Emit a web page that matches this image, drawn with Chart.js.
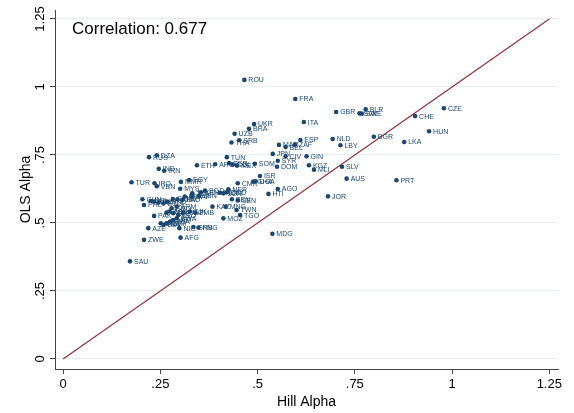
<!DOCTYPE html>
<html>
<head>
<meta charset="utf-8">
<script src="https://cdn.jsdelivr.net/npm/chart.js@4/dist/chart.umd.min.js"></script>
<style>
  html, body { margin: 0; padding: 0; background: #ffffff; }
  #wrap { width: 574px; height: 413px; }
</style>
</head>
<body>
<div id="wrap"><canvas id="c" width="574" height="413"></canvas></div>
<script>
// Country codes with their Hill and OLS tail-index estimates
const countries = [
  'ROU','FRA','GBR','BLR','SVK','SWE','CZE','CHE','HUN','BGR',
  'LKA','NLD','LBY','SLV','AUS','PRT','JOR','MDG','AGO','HTI',
  'ISR','CMR','GHA','UGA','DOM','SOM','SYR','JPN','CIV','GIN',
  'KGZ','MLI','ITA','UKR','BRA','UZB','SRB','THA','ESP','ZAF',
  'MAR','BEL','TUN','ETH','ARG','PER','COL','MEX','RUS','DZA',
  'IND','IRN','TUR','IRQ','VEN','MMR','EGY','MYS','NER','BGD',
  'KEN','TZA','YEM','SDN','COD','CHN','PHL','NPL','BOL','PRY',
  'ECU','HND','GTM','KHM','LAO','BFA','CAF','LBN','PAK','VNM',
  'TCD','SLE','LSO','MWI','TJK','ZMB','GEO','ARM','GMB','BDI',
  'NAM','RWA','MRT','BWA','AZE','ZWE','AFG','NIC','GNB','PNG',
  'SAU','KAZ','MNG','BEN','SEN','TWN','TGO','MOZ'
];
const hillAlpha = [
  0.466,0.597,0.702,0.778,0.762,0.768,0.979,0.905,0.941,0.799,
  0.877,0.693,0.713,0.717,0.729,0.857,0.681,0.538,0.552,0.528,
  0.506,0.449,0.489,0.495,0.550,0.493,0.552,0.539,0.572,0.626,
  0.632,0.645,0.619,0.491,0.478,0.441,0.453,0.433,0.610,0.596,
  0.555,0.572,0.421,0.344,0.391,0.427,0.436,0.447,0.221,0.241,
  0.246,0.260,0.176,0.235,0.241,0.303,0.324,0.301,0.425,0.365,
  0.354,0.332,0.403,0.412,0.421,0.204,0.208,0.225,0.234,0.245,
  0.258,0.268,0.282,0.294,0.307,0.313,0.331,0.350,0.234,0.266,
  0.273,0.283,0.296,0.309,0.326,0.340,0.279,0.292,0.251,0.258,
  0.266,0.275,0.283,0.292,0.219,0.208,0.302,0.299,0.335,0.348,
  0.172,0.384,0.418,0.434,0.449,0.446,0.455,0.412
];
const olsAlpha = [
  1.026,0.956,0.908,0.918,0.903,0.902,0.922,0.893,0.837,0.817,
  0.798,0.809,0.786,0.707,0.663,0.657,0.598,0.460,0.625,0.607,
  0.673,0.646,0.652,0.653,0.707,0.718,0.729,0.754,0.745,0.745,
  0.712,0.696,0.871,0.864,0.846,0.828,0.804,0.796,0.805,0.788,
  0.787,0.779,0.742,0.712,0.716,0.720,0.714,0.711,0.742,0.749,
  0.699,0.692,0.650,0.646,0.635,0.651,0.658,0.626,0.624,0.619,
  0.613,0.609,0.611,0.609,0.613,0.587,0.566,0.581,0.578,0.575,
  0.572,0.578,0.588,0.587,0.585,0.597,0.597,0.599,0.526,0.538,
  0.542,0.536,0.529,0.538,0.542,0.538,0.554,0.560,0.499,0.493,
  0.499,0.505,0.511,0.517,0.481,0.438,0.446,0.481,0.485,0.483,
  0.359,0.560,0.560,0.587,0.583,0.548,0.529,0.517
];
const tickValues = [0, 0.25, 0.5, 0.75, 1, 1.25];
const tickLabels = ['0', '.25', '.5', '.75', '1', '1.25'];
const diagonalEnds = [0, 1.25];
const correlationText = 'Correlation: 0.677';
const xTitle = 'Hill Alpha';
const yTitle = 'OLS Alpha';

const FONT = '"Liberation Sans", Arial, Helvetica, sans-serif';
const NAVY = '#1a476f';
const AXIS = '#444444';

Chart.defaults.font.family = FONT;
Chart.defaults.color = '#000000';

const points = hillAlpha.map((x, i) => ({ x: x, y: olsAlpha[i] }));
const diagonal = diagonalEnds.map(v => ({ x: v, y: v }));

// Country codes next to each marker, plus rotated y tick labels and axis titles
const annotate = {
  id: 'annotate',
  afterDatasetsDraw(chart) {
    const ctx = chart.ctx;
    const meta = chart.getDatasetMeta(0);
    ctx.save();
    ctx.font = '7px ' + FONT;
    ctx.fillStyle = NAVY;
    ctx.textAlign = 'left';
    ctx.textBaseline = 'middle';
    meta.data.forEach((el, i) => {
      ctx.fillText(countries[i], el.x + 4, el.y + 0.5);
    });
    ctx.restore();
  },
  afterDraw(chart) {
    const ctx = chart.ctx;
    const ys = chart.scales.y;
    const xs = chart.scales.x;
    ctx.save();
    ctx.fillStyle = '#000000';
    ctx.font = '13px ' + FONT;
    ctx.textAlign = 'center';
    ctx.textBaseline = 'middle';
    tickValues.forEach((v, i) => {
      const py = ys.getPixelForValue(v);
      ctx.save();
      ctx.translate(40, py);
      ctx.rotate(-Math.PI / 2);
      ctx.fillText(tickLabels[i], 0, 0);
      ctx.restore();
    });
    ctx.font = '14px ' + FONT;
    ctx.save();
    ctx.translate(26, (ys.top + ys.bottom) / 2);
    ctx.rotate(-Math.PI / 2);
    ctx.fillText(yTitle, 0, 0);
    ctx.restore();
    ctx.fillText(xTitle, (xs.left + xs.right) / 2, 402);
    ctx.font = '17px ' + FONT;
    ctx.textAlign = 'left';
    ctx.fillText(correlationText, 72, 29);
    ctx.restore();
  }
};

new Chart(document.getElementById('c'), {
  type: 'scatter',
  data: {
    datasets: [
      {
        type: 'scatter',
        data: points,
        pointRadius: 2.3,
        pointHoverRadius: 2.3,
        pointBackgroundColor: NAVY,
        pointBorderWidth: 0,
        borderWidth: 0
      },
      {
        type: 'line',
        data: diagonal,
        borderColor: '#94353b',
        borderWidth: 1.3,
        pointRadius: 0,
        fill: false,
        tension: 0
      }
    ]
  },
  options: {
    responsive: false,
    devicePixelRatio: 1,
    animation: false,
    events: [],
    layout: { padding: { left: 0, right: 16, top: 10, bottom: 0 } },
    plugins: { legend: { display: false }, tooltip: { enabled: false } },
    scales: {
      x: {
        type: 'linear',
        min: -0.0208,
        max: 1.2724,
        afterBuildTicks: (s) => { s.ticks = tickValues.map(v => ({ value: v })); },
        afterFit: (s) => { s.height = 44; },
        ticks: {
          callback: (v) => tickLabels[tickValues.indexOf(v)],
          font: { size: 13 },
          color: '#000000',
          padding: 3,
          maxRotation: 0,
          minRotation: 0,
          autoSkip: false
        },
        grid: { drawOnChartArea: false, drawTicks: true, tickLength: 5, tickColor: AXIS, tickWidth: 1 },
        border: { display: true, color: AXIS, width: 1 }
      },
      y: {
        type: 'linear',
        min: -0.0368,
        max: 1.283,
        afterBuildTicks: (s) => { s.ticks = tickValues.map(v => ({ value: v })); },
        afterFit: (s) => { s.width = 55; },
        ticks: { display: false },
        grid: { color: '#e7eef2', lineWidth: 1, drawTicks: true, tickLength: 5, tickColor: AXIS, tickWidth: 1 },
        border: { display: true, color: AXIS, width: 1 }
      }
    }
  },
  plugins: [annotate]
});
</script>
</body>
</html>
